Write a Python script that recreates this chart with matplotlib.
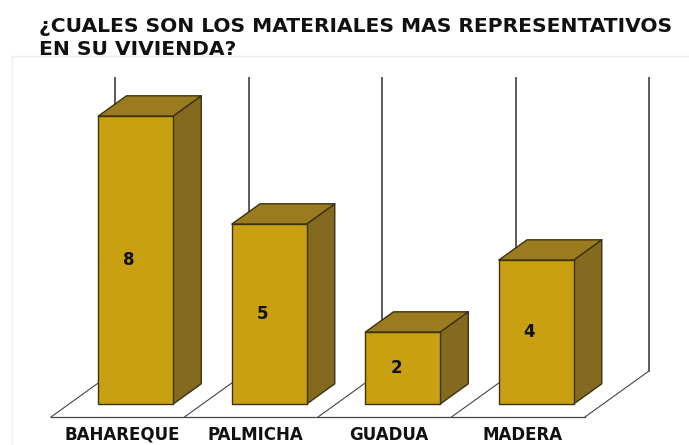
import matplotlib.pyplot as plt
from matplotlib.patches import Polygon
from matplotlib.lines import Line2D

# data
categorias = ["BAHAREQUE", "PALMICHA", "GUADUA", "MADERA"]
valores = [8, 5, 2, 4]
titulo = "¿CUALES SON LOS MATERIALES MAS REPRESENTATIVOS\nEN SU VIVIENDA?"

# colores de las caras
c_frente = "#C9A012"
c_arriba = "#9B7B20"
c_lado = "#836A1E"
c_borde = "#3B3212"

fig = plt.figure(figsize=(6.89, 4.45), dpi=100)
ax = fig.add_axes([0, 0, 1, 1])
ax.set_xlim(-0.382, 4.779)
ax.set_ylim(-0.778, 11.583)
ax.axis("off")

# offset of depth (z=1) in data units
DX, DY = 0.48, 1.28
ymax = 8.14


def proj(x, y, z):
    return x + z * DX, y + z * DY


n = len(categorias)

# faint border of chart area
fig.add_artist(Line2D([12 / 689, 12 / 689], [0, 1 - 56 / 445], color="#eeeeee", lw=1))
fig.add_artist(Line2D([12 / 689, 1], [1 - 56 / 445, 1 - 56 / 445], color="#eeeeee", lw=1))

# floor and back wall
ax.plot([0, n], [0, 0], color="#444444", lw=0.9, zorder=1)
for i in range(n + 1):
    a = proj(i, 0, 0)
    b = proj(i, 0, 1)
    ax.plot([a[0], b[0]], [a[1], b[1]], color="#444444", lw=0.8, zorder=1)
    t = proj(i, ymax, 1)
    ax.plot([b[0], t[0]], [b[1], t[1]], color="#5a5a5a", lw=1.4, zorder=1)

# bars
z0, z1 = 0.28, 0.72
hw = 0.28
for i, v in enumerate(valores):
    x0 = i + 0.5 - hw
    x1 = i + 0.5 + hw
    frente = [proj(x0, 0, z0), proj(x1, 0, z0), proj(x1, v, z0), proj(x0, v, z0)]
    arriba = [proj(x0, v, z0), proj(x1, v, z0), proj(x1, v, z1), proj(x0, v, z1)]
    lado = [proj(x1, 0, z0), proj(x1, 0, z1), proj(x1, v, z1), proj(x1, v, z0)]
    for pts, col in [(lado, c_lado), (arriba, c_arriba), (frente, c_frente)]:
        ax.add_patch(Polygon(pts, closed=True, facecolor=col, edgecolor=c_borde,
                             lw=1.0, joinstyle="round", zorder=3))
    lx, ly = proj(i + 0.45, v / 2, z0)
    ax.text(lx, ly, str(v), ha="center", va="center", fontsize=12,
            fontweight="bold", color="#111111", zorder=4)

# category labels
for i, c in enumerate(categorias):
    ax.text(i + 0.53, -0.5, c, ha="center", va="center", fontsize=12,
            fontweight="bold", color="#111111")

fig.text(39 / 689, 1 - 17 / 445, titulo, ha="left", va="top", fontsize=14.6,
         fontweight="bold", color="#111111", linespacing=1.25)

fig.savefig("out.png", dpi=100)
